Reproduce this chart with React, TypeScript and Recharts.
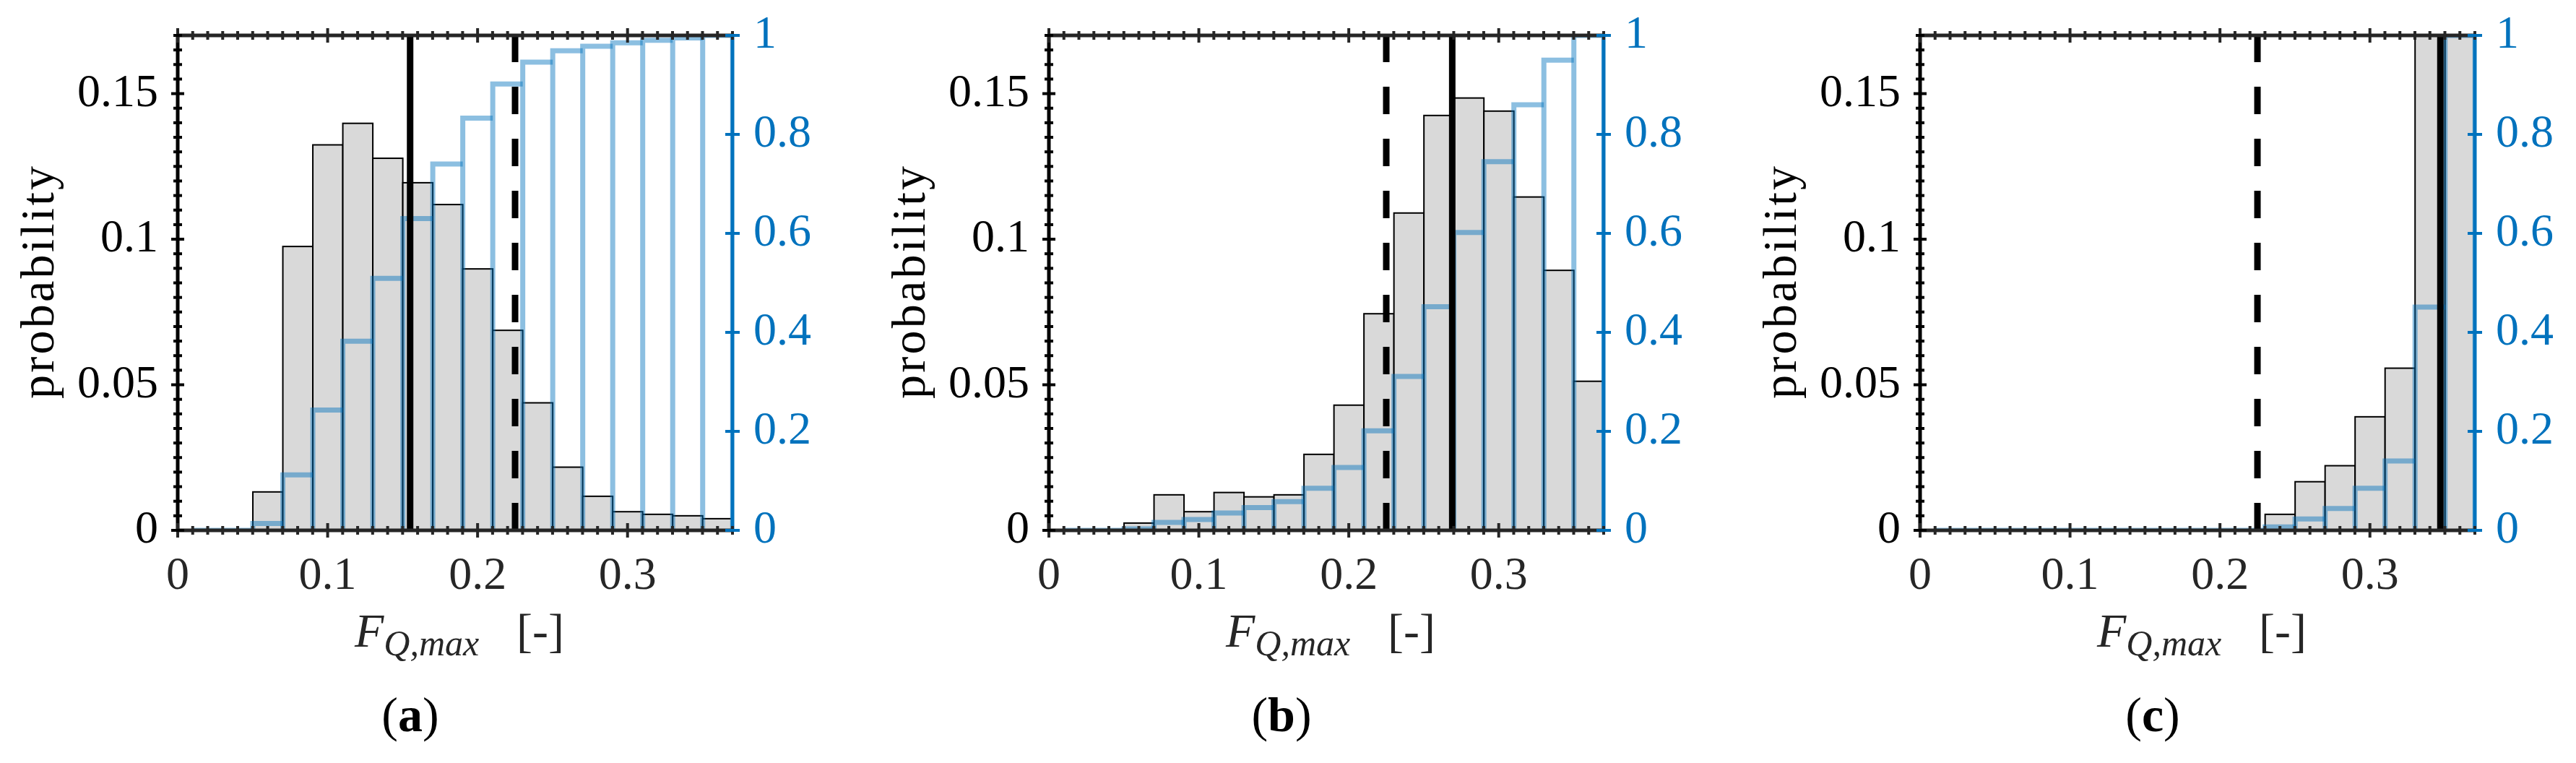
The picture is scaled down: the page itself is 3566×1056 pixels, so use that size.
import React from "react";
import { ComposedChart, Bar, XAxis, YAxis, ReferenceLine } from "recharts";

// bin centres, bins are 0.02 wide starting at 0.01
const BINS = [0.02, 0.04, 0.06, 0.08, 0.1, 0.12, 0.14, 0.16, 0.18, 0.2, 0.22, 0.24, 0.26, 0.28, 0.3, 0.32, 0.34, 0.36];

const PROB_A = [0, 0, 0.0132, 0.0975, 0.1324, 0.1398, 0.1278, 0.1194, 0.1119, 0.0898, 0.0687, 0.0438, 0.0217, 0.0117, 0.0064, 0.0055, 0.005, 0.004];
const CUM_A = [0, 0, 0.014, 0.112, 0.243, 0.382, 0.509, 0.63, 0.74, 0.833, 0.902, 0.946, 0.969, 0.978, 0.985, 0.99, 0.995, 1.0];

const PROB_B = [0, 0, 0.0025, 0.0122, 0.0064, 0.013, 0.0115, 0.0122, 0.0261, 0.043, 0.0744, 0.109, 0.1425, 0.1485, 0.144, 0.1145, 0.0893, 0.0512];
const CUM_B = [0, 0, 0.003, 0.016, 0.022, 0.035, 0.046, 0.058, 0.085, 0.127, 0.201, 0.311, 0.452, 0.602, 0.745, 0.86, 0.95, 1.0];

const PROB_C = [0, 0, 0, 0, 0, 0, 0, 0, 0, 0, 0, 0.0055, 0.0167, 0.0222, 0.039, 0.0557, 0.31, 0.55];
const CUM_C = [0, 0, 0, 0, 0, 0, 0, 0, 0, 0, 0, 0.007, 0.023, 0.044, 0.085, 0.14, 0.451, 1.0];

const SOLID_X = [0.155, 0.269, 0.347];
const DASHED_X = 0.225;
const TAGS = ["a", "b", "c"];

const X_MAJOR = [0, 0.1, 0.2, 0.3];
const X_LABELS = ["0", "0.1", "0.2", "0.3"];
const P_MAJOR = [0, 0.05, 0.1, 0.15];
const P_LABELS = ["0", "0.05", "0.1", "0.15"];
const C_TICKS = [0, 0.2, 0.4, 0.6, 0.8, 1];
const C_LABELS = ["0", "0.2", "0.4", "0.6", "0.8", "1"];

// minor tick positions
const X_TICKS = Array.from({ length: 38 }, (_, i) => +(i * 0.01).toFixed(2));
const P_TICKS = Array.from({ length: 35 }, (_, i) => +(i * 0.005).toFixed(3));

const FONT = "'Liberation Serif', serif";
const DARK = "#262626";
const BLUE = "#0072BD";

const W = 1206;
const H = 1056;
// axes are 1px wide/tall, so the plot box is 246..1014 x 49..734
const M = { top: 48, left: 245, right: 191, bottom: 321 };
const PLOT_W = W - M.left - M.right - 2;
const X_MAX = 0.37;
const BIN_W = 0.02;
const BIN_PX = (PLOT_W * BIN_W) / X_MAX;

function majorIndex(v: number, majors: number[]) {
  return majors.findIndex((m) => Math.abs(m - v) < 1e-9);
}

function makeTick(side: string, majors: number[], labels: string[] | null, color: string, big: number, small: number) {
  return (props: any) => {
    const { x, y, payload } = props;
    const k = majorIndex(payload.value, majors);
    const len = k >= 0 ? big : small;
    const label = labels && k >= 0 ? labels[k] : null;
    if (side === "bottom" || side === "top") {
      return (
        <g>
          <line x1={x} x2={x} y1={y - len} y2={y + len} stroke={color} strokeWidth={4} />
          {label && (
            <text x={x} y={y + 81} textAnchor="middle" fontSize={64} fontFamily={FONT} fill={color}>
              {label}
            </text>
          )}
        </g>
      );
    }
    return (
      <g>
        <line x1={x - len} x2={x + len} y1={y} y2={y} stroke={color} strokeWidth={4} />
        {label && (
          <text
            x={side === "left" ? x - 27 : x + 29}
            y={y + 17}
            textAnchor={side === "left" ? "end" : "start"}
            fontSize={64}
            fontFamily={FONT}
            fill={color}
          >
            {label}
          </text>
        )}
      </g>
    );
  };
}

const bottomTick = makeTick("bottom", X_MAJOR, X_LABELS, DARK, 10, 6);
const topTick = makeTick("top", X_MAJOR, null, DARK, 10, 6);
const leftTick = makeTick("left", P_MAJOR, P_LABELS, "#000", 9, 6);
const rightTick = makeTick("right", C_TICKS, C_LABELS, BLUE, 10, 10);

// bars sit on a numeric axis: keep the library's centre, use the real bin width
const ProbShape = (props: any) => {
  const { x, y, width, height } = props;
  if (!(height > 0)) return null;
  const cx = x + width / 2;
  return <rect x={cx - BIN_PX / 2} y={y} width={BIN_PX} height={height} fill="#d9d9d9" stroke="#000" strokeWidth={2} />;
};

const CumShape = (props: any) => {
  const { x, y, width, height, payload } = props;
  const cx = x + width / 2;
  const x0 = cx - BIN_PX / 2;
  const bottom = y + height;
  let d = `M${x0},${bottom}V${y}H${x0 + BIN_PX}`;
  if (payload && payload.bin === BINS[BINS.length - 1]) d += `V${bottom}`;
  return <path d={d} fill="none" stroke={BLUE} strokeOpacity={0.45} strokeWidth={7} />;
};

function Panel({ prob, cum, solid }: { prob: number[]; cum: number[]; solid: number }) {
  const rows = BINS.map((bin, i) => ({ bin, prob: prob[i], cum: cum[i] }));
  return (
    <ComposedChart width={W} height={H} data={rows} margin={M} barCategoryGap={0} barGap={0}>
      <Bar xAxisId="num" yAxisId="p" dataKey="prob" shape={ProbShape} isAnimationActive={false} />
      <ReferenceLine xAxisId="num" yAxisId="p" x={DASHED_X} stroke="#000" strokeWidth={9} strokeDasharray="38 34" />
      <ReferenceLine xAxisId="num" yAxisId="p" x={solid} stroke="#000" strokeWidth={9} />
      <Bar xAxisId="top" yAxisId="c" dataKey="cum" shape={CumShape} isAnimationActive={false} />
      <XAxis
        xAxisId="num"
        dataKey="bin"
        type="number"
        domain={[0, X_MAX]}
        allowDataOverflow
        ticks={X_TICKS}
        interval={0}
        height={1}
        tickSize={0}
        tickMargin={0}
        tickLine={false}
        tick={bottomTick}
        axisLine={{ stroke: DARK, strokeWidth: 5 }}
      />
      <XAxis
        xAxisId="top"
        dataKey="bin"
        orientation="top"
        type="number"
        domain={[0, X_MAX]}
        allowDataOverflow
        ticks={X_TICKS}
        interval={0}
        height={1}
        tickSize={0}
        tickMargin={0}
        tickLine={false}
        tick={topTick}
        axisLine={{ stroke: DARK, strokeWidth: 5 }}
      />
      <YAxis
        yAxisId="p"
        orientation="left"
        type="number"
        domain={[0, 0.17]}
        allowDataOverflow
        ticks={P_TICKS}
        interval={0}
        width={1}
        tickSize={0}
        tickMargin={0}
        tickLine={false}
        tick={leftTick}
        axisLine={{ stroke: "#000", strokeWidth: 5 }}
      />
      <YAxis
        yAxisId="c"
        orientation="right"
        type="number"
        domain={[0, 1]}
        allowDataOverflow
        ticks={C_TICKS}
        interval={0}
        width={1}
        tickSize={0}
        tickMargin={0}
        tickLine={false}
        tick={rightTick}
        axisLine={{ stroke: BLUE, strokeWidth: 5 }}
      />
    </ComposedChart>
  );
}

const PANELS = [
  { prob: PROB_A, cum: CUM_A },
  { prob: PROB_B, cum: CUM_B },
  { prob: PROB_C, cum: CUM_C },
];

export default function App() {
  return (
    <div style={{ position: "absolute", left: 0, top: 0, width: 3566, height: 1056, background: "#fff" }}>
      {PANELS.map((p, i) => (
        <div key={i} style={{ position: "absolute", left: i * W, top: 0 }}>
          <Panel prob={p.prob} cum={p.cum} solid={SOLID_X[i]} />
        </div>
      ))}
      <svg width={3566} height={1056} style={{ position: "absolute", left: 0, top: 0, pointerEvents: "none" }}>
        {TAGS.map((t, i) => {
          const left = i * W + 246;
          return (
            <g key={t} fontFamily={FONT}>
              <text
                transform={`translate(${left - 172},391) rotate(-90)`}
                textAnchor="middle"
                fontSize={66}
                fill="#000"
                textLength={322}
                lengthAdjust="spacing"
              >
                probability
              </text>
              <text x={left + 245} y={895} fontSize={66} fill={DARK}>
                <tspan fontStyle="italic">F</tspan>
                <tspan fontStyle="italic" fontSize={50} dy={12}>Q,max</tspan>
                <tspan x={left + 469} dy={-12}>[-]</tspan>
              </text>
              <text x={left + 322} y={1012} fontSize={68} fill="#000" textAnchor="middle">
                <tspan>(</tspan>
                <tspan fontWeight="bold">{t}</tspan>
                <tspan>)</tspan>
              </text>
            </g>
          );
        })}
      </svg>
    </div>
  );
}
